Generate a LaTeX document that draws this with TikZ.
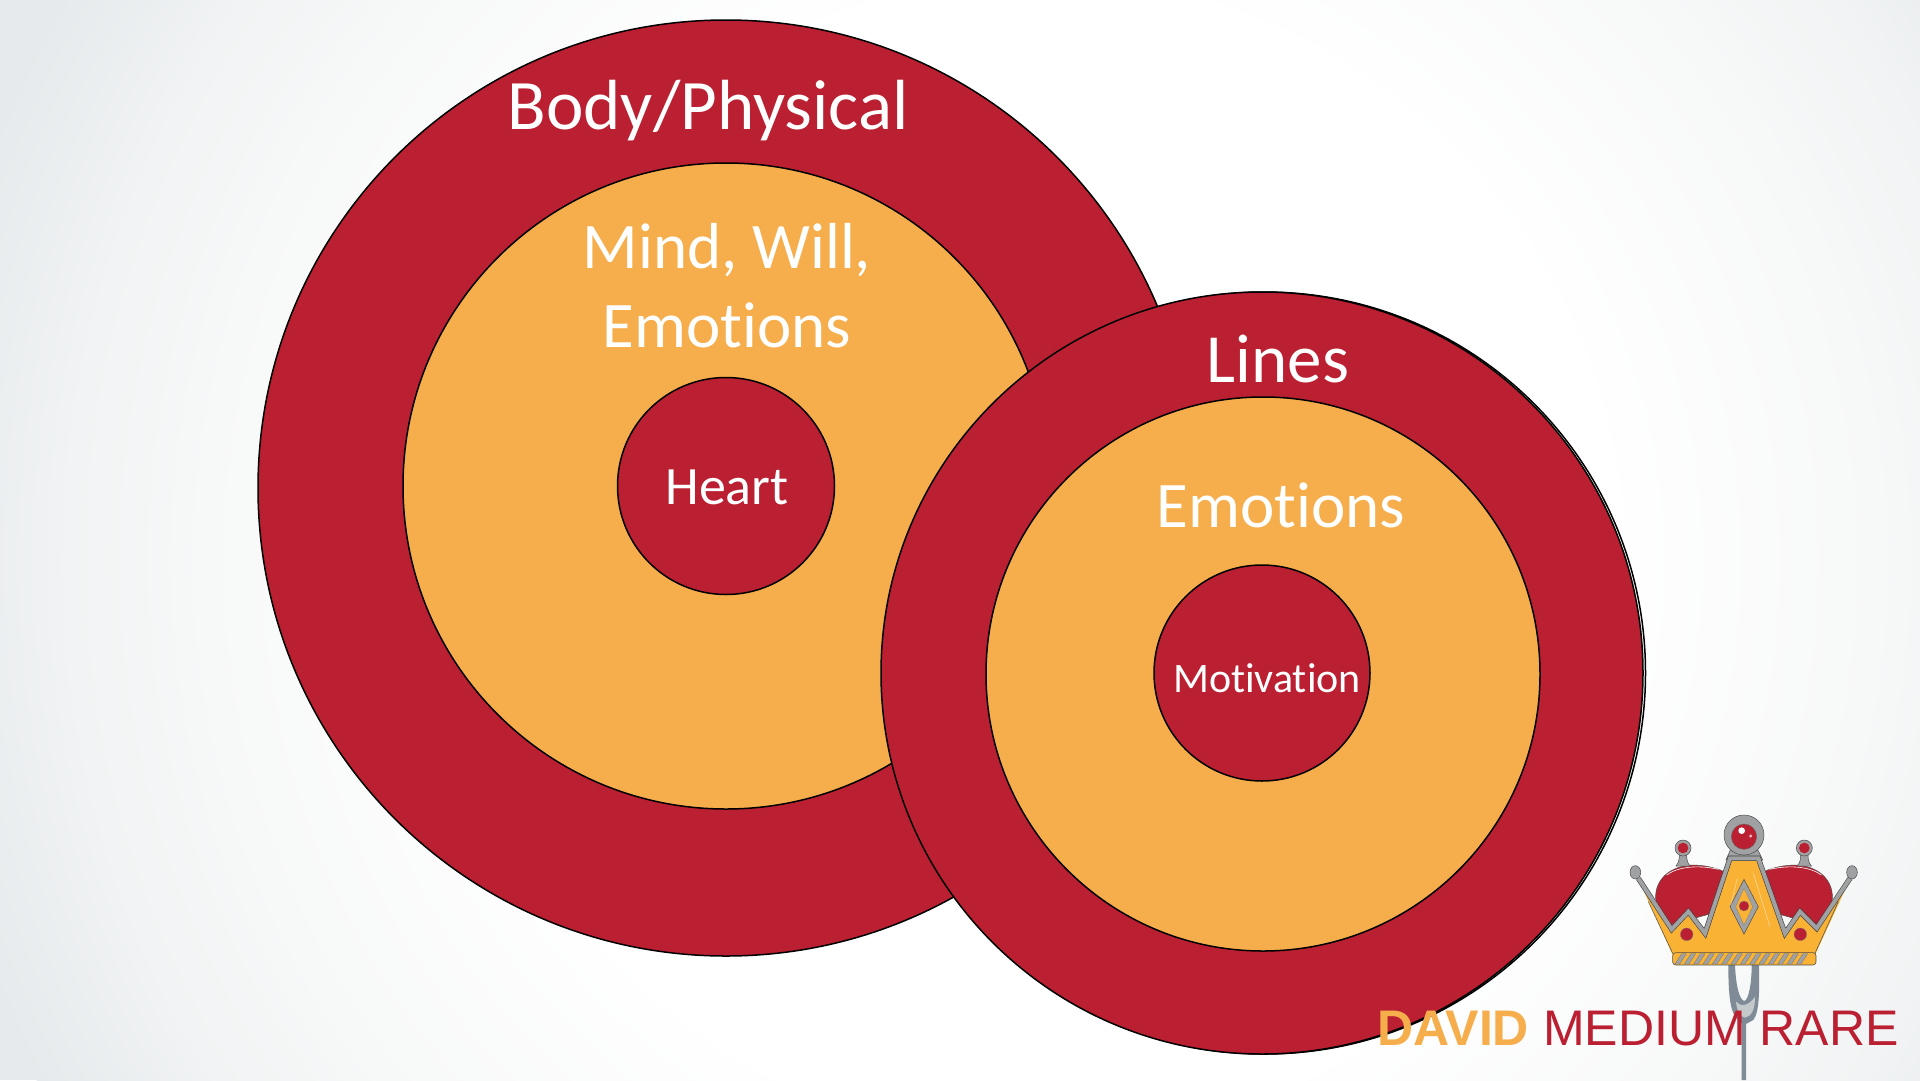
\documentclass[tikz,border=0pt]{standalone}
\usepackage{fontspec}
\setmainfont{Carlito}[Ligatures=NoCommon]
\newfontfamily\logofont{Liberation Sans}
\definecolor{crimson}{HTML}{BA2031}
\definecolor{amber}{HTML}{F6AE4C}
\definecolor{edgegrey}{HTML}{E6EAEC}
\definecolor{midgrey}{HTML}{F7F8F8}
\definecolor{neargrey}{HTML}{F1F3F4}
\definecolor{forkgrey}{HTML}{7F8B96}
\definecolor{forklight}{HTML}{C3C8CA}
\definecolor{metal}{HTML}{9FA1A3}
\definecolor{crowngold}{HTML}{F9B233}
\pgfdeclareradialshading{bgglow}{\pgfpoint{0bp}{0bp}}{color(0bp)=(white);color(12.5bp)=(white);color(18.5bp)=(midgrey);color(21.5bp)=(neargrey);color(25bp)=(edgegrey);color(50bp)=(edgegrey)}
\tikzset{
  ring/.style={circle,draw=black,line width=1.5pt,inner sep=0pt,minimum size=#1},
  ringred/.style={ring=#1,fill=crimson},
  ringgold/.style={ring=#1,fill=amber},
  lbl/.style={text=white,anchor=base,inner sep=0pt,font=\fontsize{#1}{#1}\selectfont},
  logotext/.style={anchor=base west,inner sep=0pt,font=\logofont\fontsize{50}{50}\selectfont},
  metalline/.style={line width=4pt,draw=metal,line join=miter},
  metaledge/.style={line width=5.2pt,draw=black!75,line join=miter},
  crownpart/.style={draw=black!70,line width=.5pt}
}
\begin{document}
\begin{tikzpicture}[x=1pt,y=-1pt]
\useasboundingbox (0,0) rectangle (1920,1080);
\begin{scope}
\clip (0,0) rectangle (1920,1080);
\fill[edgegrey] (0,0) rectangle (1920,1080);
\shade[shading=bgglow] (1040,560) circle (1130);
\end{scope}
% left target
\node[ringred=936pt] (outerA) at (726,488) {};
\node[ringgold=646pt] (midA) at (726,486) {};
\node[ringred=217pt] (innerA) at (726,486) {};
% right target (second outline behind)
\node[ring=762pt,fill=white] (shadowB) at (1264.5,673) {};
\node[ringred=762pt] (outerB) at (1262,673) {};
\node[ringgold=554pt] (midB) at (1263,674) {};
\node[ringred=216pt] (innerB) at (1262,673) {};
% labels
\node[lbl=71] (tBody) at (708,129) {Body/Physical};
\node[lbl=65] (tMind) at (727,268.5) {Mind, Will,};
\node[lbl=65] (tEmoA) at (727,347) {Emotions};
\node[lbl=54] (tHeart) at (727,504) {Heart};
\node[lbl=69] (tLines) at (1278,382) {Lines};
\node[lbl=65] (tEmoB) at (1281,527) {Emotions};
\node[lbl=42] (tMot) at (1267,692) {Motivation};
% fork
\begin{scope}[shift={(1690,955)},x=0.3333pt,y=-0.3333pt]
\fill[forkgrey] (115,30) -- (135,30) .. controls (138,100) and (150,135) .. (163,138) .. controls (175,135) and (185,90) .. (185,30) -- (207,30) .. controls (208,90) and (210,170) .. (190,195) -- (168,207) -- (168,375) -- (155,375) -- (155,205) .. controls (125,185) and (115,150) .. (115,30) -- cycle;
\fill[forklight] (138,140) .. controls (150,155) and (175,155) .. (195,125) .. controls (196,160) and (185,185) .. (165,188) .. controls (150,185) and (140,165) .. (138,140) -- cycle;
\end{scope}
% crown
\begin{scope}[shift={(1620,810)},x=0.3333pt,y=-0.3333pt]
\fill[crimson,crownpart] (150,345) -- (110,285) .. controls (95,225) and (135,170) .. (215,165) .. controls (250,165) and (285,172) .. (312,185) -- (312,300) -- cycle;
\fill[crimson,crownpart] (594,345) -- (634,285) .. controls (649,225) and (609,170) .. (529,165) .. controls (494,165) and (459,172) .. (432,185) -- (432,300) -- cycle;
\draw[white,line width=.6pt] (140,195) .. controls (170,172) and (230,163) .. (295,178);
\draw[white,line width=.6pt] (604,195) .. controls (574,172) and (514,163) .. (449,178);
% small balls
\fill[metal,crownpart] (168,168) .. controls (178,155) and (178,145) .. (178,130) -- (200,130) .. controls (200,145) and (200,155) .. (210,168) -- cycle;
\fill[metal,crownpart] (532,168) .. controls (542,155) and (542,145) .. (542,130) -- (564,130) .. controls (564,145) and (564,155) .. (574,168) -- cycle;
\fill[metal,crownpart] (189,114) circle (24);
\fill[metal,crownpart] (553,114) circle (24);
\fill[crimson] (189,114) circle (16);
\fill[crimson] (553,114) circle (16);
% gold body
\fill[crowngold] (70,240) -- (155,358) -- (205,305) -- (255,370) -- (330,150) -- (415,150) -- (495,370) -- (540,305) -- (590,355) -- (675,240) -- (585,435) -- (158,435) -- cycle;
\draw[crownpart] (85,275) -- (158,430);
\draw[crownpart] (655,275) -- (585,430);
% top of central spike and zigzag
\fill[metal,crownpart] (318,150) -- (330,122) -- (415,122) -- (428,150) -- cycle;
\draw[metaledge] (55,205) -- (155,358) -- (205,305) -- (255,370) -- (330,145) -- (415,145) -- (495,370) -- (540,305) -- (590,355) -- (690,205);
\draw[metalline] (55,205) -- (155,358) -- (205,305) -- (255,370) -- (330,145) -- (415,145) -- (495,370) -- (540,305) -- (590,355) -- (690,205);
\fill[crowngold] (345,153) -- (400,153) -- (470,370) -- (372,400) -- (274,370) -- cycle;
% central ball
\fill[metal,crownpart] (372,75) circle (60);
\fill[crimson,draw=black!60,line width=.4pt] (372,80) circle (38);
\fill[white] (365,62) circle (10);
\fill[white!70!crimson] (392,78) circle (5);
% side balls
\fill[metal,crownpart] (46,187) ellipse (16 and 20);
\fill[metal,crownpart] (696,187) ellipse (16 and 20);
% diamond
\fill[metal,crownpart] (372,208) -- (415,290) -- (372,372) -- (330,290) -- cycle;
\fill[crowngold,draw=black!50,line width=.3pt] (372,235) -- (398,290) -- (372,345) -- (347,290) -- cycle;
\fill[crimson,draw=black!50,line width=.3pt] (372,288) circle (15);
\fill[crimson,draw=black!50,line width=.3pt] (200,373) circle (19);
\fill[crimson,draw=black!50,line width=.3pt] (541,373) circle (19);
\draw[white!60!crowngold,line width=.5pt] (332,285) -- (352,205);
\draw[white!60!crowngold,line width=.5pt] (400,190) -- (450,350);
% rope band
\fill[crowngold,draw=black!70,line width=.6pt,rounded corners=3pt] (158,428) rectangle (588,465);
\foreach \sx in {165,193,...,545}{
  \fill[metal,draw=black!55,line width=.3pt] (\sx,462) -- (\sx+14,462) -- (\sx+34,431) -- (\sx+20,431) -- cycle;
}
\end{scope}
% logo text
\node[logotext,text=amber] (tDavid) at (1377,1045) {\bfseries DAVID};
\node[logotext,text=crimson] (tMedium) at (1543,1045) {MEDIUM RARE};
\end{tikzpicture}
\end{document}
